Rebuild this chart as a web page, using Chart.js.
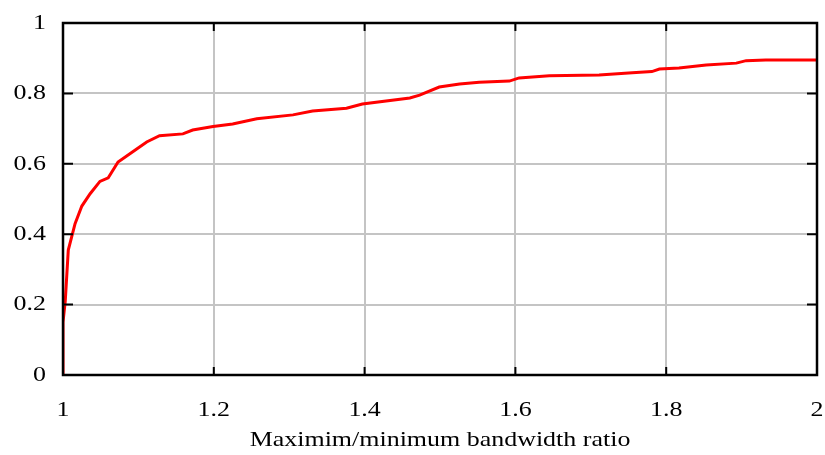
<!DOCTYPE html>
<html>
<head>
<meta charset="utf-8">
<script src="https://cdn.jsdelivr.net/npm/chart.js@4"></script>
<style>
html,body{margin:0;padding:0;background:#fff;}
#wrap{width:825px;height:455px;}
</style>
</head>
<body>
<div id="wrap"><canvas id="c" width="825" height="455"></canvas></div>
<script>
const ratioX = [1.000,1.000,1.003,1.007,1.016,1.025,1.036,1.049,1.060,1.073,1.093,1.111,1.128,1.159,1.172,1.199,1.225,1.257,1.305,1.331,1.376,1.397,1.460,1.473,1.499,1.526,1.552,1.592,1.605,1.645,1.711,1.755,1.781,1.791,1.817,1.853,1.893,1.906,1.932,2.000];
const cdfY   = [0.000,0.150,0.210,0.355,0.430,0.480,0.515,0.550,0.560,0.605,0.635,0.662,0.680,0.685,0.696,0.706,0.713,0.728,0.739,0.750,0.758,0.770,0.787,0.795,0.818,0.827,0.832,0.835,0.844,0.850,0.852,0.859,0.862,0.869,0.872,0.881,0.886,0.893,0.895,0.895];
const xTicks = [1,1.2,1.4,1.6,1.8,2];
const yTicks = [0,0.2,0.4,0.6,0.8,1];
const xTitle = 'Maximim/minimum bandwidth ratio';

const points = ratioX.map((x,i)=>({x:x,y:cdfY[i]}));

// the reference text is slightly stretched horizontally
const stretchText = {
  id:'stretchText',
  beforeDraw(chart){
    const ctx = chart.ctx;
    if (ctx._stretched) return;
    const orig = ctx.fillText.bind(ctx);
    ctx.fillText = function(t,x,y,mw){
      ctx.save();
      ctx.translate(x,y);
      ctx.scale(1.18,1);
      orig(t,0,0);
      ctx.restore();
    };
    ctx._stretched = true;
  }
};

const frame = {
  id:'frame',
  afterDatasetsDraw(chart){
    const {ctx, chartArea:a, scales} = chart;
    ctx.save();
    ctx.strokeStyle='#000';
    ctx.lineWidth=2;
    ctx.beginPath();
    xTicks.forEach(v=>{
      const px = scales.x.getPixelForValue(v);
      ctx.moveTo(px,a.bottom); ctx.lineTo(px,a.bottom-8);
      ctx.moveTo(px,a.top); ctx.lineTo(px,a.top+8);
    });
    yTicks.forEach(v=>{
      const py = scales.y.getPixelForValue(v);
      ctx.moveTo(a.left,py); ctx.lineTo(a.left+10,py);
      ctx.moveTo(a.right,py); ctx.lineTo(a.right-10,py);
    });
    ctx.stroke();
    ctx.lineWidth=2.5;
    ctx.strokeRect(a.left,a.top,a.right-a.left,a.bottom-a.top);
    ctx.restore();
  }
};

new Chart(document.getElementById('c'),{
  type:'scatter',
  data:{datasets:[{
    data:points,
    showLine:true,
    borderColor:'#ff0000',
    borderWidth:3,
    pointRadius:0,
    tension:0,
    fill:false
  }]},
  options:{
    responsive:false,
    animation:false,
    layout:{padding:{left:0,right:8,top:23,bottom:0}},
    plugins:{legend:{display:false},tooltip:{enabled:false}},
    scales:{
      x:{
        type:'linear',min:1,max:2,
        afterBuildTicks(s){s.ticks=xTicks.map(v=>({value:v}));},
        afterFit(s){s.height=80;s.paddingLeft=0;s.paddingRight=0;},
        grid:{color:'#c4c4c4',lineWidth:2,drawTicks:false},
        border:{display:false},
        ticks:{padding:22,color:'#000',font:{family:'Liberation Serif',size:22},callback:v=>String(v)},
        title:{display:true,text:xTitle,color:'#000',font:{family:'Liberation Serif',size:22},padding:{top:0,bottom:2}}
      },
      y:{
        type:'linear',min:0,max:1,
        afterBuildTicks(s){s.ticks=yTicks.map(v=>({value:v}));},
        afterFit(s){s.width=63;s.paddingTop=0;s.paddingBottom=0;},
        grid:{color:'#c4c4c4',lineWidth:2,drawTicks:false},
        border:{display:false},
        ticks:{padding:17,color:'#000',font:{family:'Liberation Serif',size:22},callback:v=>String(v)}
      }
    }
  },
  plugins:[stretchText, frame]
});
</script>
</body>
</html>
